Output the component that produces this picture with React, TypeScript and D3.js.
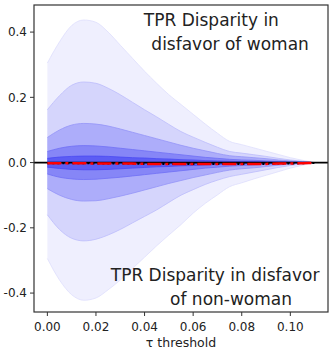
import React from 'react';
import * as d3 from 'd3';

// tau thresholds (x)
const thresholds = [0, 0.005, 0.01, 0.015, 0.02, 0.025, 0.03, 0.035, 0.04, 0.045, 0.05, 0.055,
  0.06, 0.065, 0.07, 0.075, 0.08, 0.085, 0.09, 0.095, 0.1, 0.105, 0.11];

// band bounds, outermost first
const band1Hi = [0.305, 0.37, 0.42, 0.437, 0.43, 0.4, 0.36, 0.32, 0.28, 0.243, 0.208, 0.178,
  0.148, 0.118, 0.09, 0.065, 0.055, 0.045, 0.035, 0.025, 0.015, 0.007, 0];
const band1Lo = [-0.294, -0.36, -0.405, -0.422, -0.415, -0.39, -0.36, -0.325, -0.29, -0.255, -0.222, -0.19,
  -0.155, -0.125, -0.099, -0.074, -0.062, -0.05, -0.039, -0.028, -0.017, -0.008, 0];
const band2Hi = [0.162, 0.205, 0.237, 0.247, 0.243, 0.228, 0.208, 0.185, 0.162, 0.14, 0.117, 0.095,
  0.078, 0.062, 0.047, 0.034, 0.029, 0.024, 0.019, 0.013, 0.008, 0.004, 0];
const band2Lo = [-0.16, -0.205, -0.232, -0.24, -0.235, -0.222, -0.205, -0.185, -0.165, -0.145, -0.122, -0.1,
  -0.083, -0.067, -0.054, -0.043, -0.036, -0.029, -0.022, -0.015, -0.009, -0.004, 0];
const band3Hi = [0.077, 0.1, 0.115, 0.12, 0.118, 0.112, 0.103, 0.093, 0.083, 0.073, 0.063, 0.053,
  0.044, 0.036, 0.028, 0.021, 0.018, 0.015, 0.012, 0.008, 0.005, 0.002, 0];
const band3Lo = [-0.08, -0.1, -0.113, -0.118, -0.117, -0.111, -0.103, -0.094, -0.084, -0.074, -0.064, -0.055,
  -0.046, -0.038, -0.03, -0.023, -0.019, -0.016, -0.012, -0.008, -0.005, -0.002, 0];
const band4Hi = [0.034, 0.044, 0.05, 0.052, 0.051, 0.048, 0.044, 0.04, 0.036, 0.032, 0.028, 0.024,
  0.02, 0.016, 0.013, 0.01, 0.008, 0.007, 0.005, 0.004, 0.002, 0.001, 0];
const band4Lo = [-0.035, -0.045, -0.05, -0.052, -0.051, -0.048, -0.045, -0.041, -0.037, -0.033, -0.029, -0.025,
  -0.021, -0.017, -0.014, -0.011, -0.009, -0.007, -0.005, -0.004, -0.002, -0.001, 0];
const band5Hi = [0.013, 0.017, 0.019, 0.02, 0.02, 0.019, 0.017, 0.015, 0.014, 0.012, 0.011, 0.009,
  0.008, 0.006, 0.005, 0.004, 0.003, 0.003, 0.002, 0.002, 0.001, 0.001, 0];
const band5Lo = [-0.014, -0.018, -0.021, -0.022, -0.022, -0.021, -0.019, -0.017, -0.015, -0.013, -0.012, -0.01,
  -0.009, -0.007, -0.006, -0.005, -0.004, -0.003, -0.003, -0.002, -0.001, -0.001, 0];

// mean disparity
const meanLine = [-0.002, -0.002, -0.002, -0.002, -0.003, -0.003, -0.003, -0.003, -0.004, -0.004, -0.004, -0.004,
  -0.004, -0.004, -0.004, -0.004, -0.004, -0.004, -0.004, -0.003, -0.003, -0.002, -0.001];

const xTicks = [0, 0.02, 0.04, 0.06, 0.08, 0.1];
const yTicks = [-0.4, -0.2, 0, 0.2, 0.4];

const bands = [
  { hi: band1Hi, lo: band1Lo, fill: '#efeffe', edge: '#dedefd' },
  { hi: band2Hi, lo: band2Lo, fill: '#d5d5fc', edge: '#bcbcfb' },
  { hi: band3Hi, lo: band3Lo, fill: '#adadfa', edge: '#9494f8' },
  { hi: band4Hi, lo: band4Lo, fill: '#8686f7', edge: '#7070f5' },
  { hi: band5Hi, lo: band5Lo, fill: '#5c5cf4', edge: '#4a4af2' },
];

const notes = [
  { text: 'TPR Disparity in', x: 0.0397, y: 0.418 },
  { text: 'disfavor of woman', x: 0.0428, y: 0.346 },
  { text: 'TPR Disparity in disfavor', x: 0.0261, y: -0.363 },
  { text: 'of non-woman', x: 0.0505, y: -0.436 },
];

const W = 332;
const H = 353;
const margin = { top: 5, right: 4, bottom: 41, left: 34 };

export default function App() {
  const x = d3.scaleLinear().domain([-0.0055, 0.1155]).range([margin.left, W - margin.right]);
  const y = d3.scaleLinear().domain([-0.458, 0.483]).range([H - margin.bottom, margin.top]);

  const area = (hi: number[], lo: number[]) =>
    d3.area<number>()
      .x((_, i) => x(thresholds[i]))
      .y0((_, i) => y(lo[i]))
      .y1((_, i) => y(hi[i]))
      .curve(d3.curveMonotoneX)(thresholds) as string;

  const edge = (vals: number[]) =>
    d3.line<number>()
      .x((_, i) => x(thresholds[i]))
      .y((_, i) => y(vals[i]))
      .curve(d3.curveMonotoneX)(thresholds) as string;

  const left = margin.left;
  const right = W - margin.right;
  const top = margin.top;
  const bottom = H - margin.bottom;
  const font = 'DejaVu Sans, sans-serif';

  return (
    <svg width={W} height={H} style={{ position: 'absolute', left: 0, top: 0, background: '#fff' }}>
      {bands.map((b, i) => (
        <g key={i}>
          <path d={area(b.hi, b.lo)} fill={b.fill} />
          <path d={edge(b.hi)} fill="none" stroke={b.edge} strokeWidth={0.8} />
          <path d={edge(b.lo)} fill="none" stroke={b.edge} strokeWidth={0.8} />
        </g>
      ))}

      {/* zero reference */}
      <line x1={left} x2={right} y1={y(0)} y2={y(0)} stroke="#000" strokeWidth={1.8} />

      {/* mean lines */}
      <path d={edge(meanLine)} fill="none" stroke="#000" strokeWidth={2} strokeDasharray="2,3" />
      <path d={edge(meanLine)} fill="none" stroke="#ff0000" strokeWidth={2.5}
        strokeDasharray="14,4,3,4" />

      {notes.map((n, i) => (
        <text key={i} x={x(n.x)} y={y(n.y)} fontFamily={font} fontSize={17} fill="#222">
          {n.text}
        </text>
      ))}

      {/* frame */}
      <rect x={left} y={top} width={right - left} height={bottom - top}
        fill="none" stroke="#333" strokeWidth={1.2} />

      {xTicks.map((t) => (
        <g key={t} transform={`translate(${x(t)},${bottom})`}>
          <line y1={0} y2={4} stroke="#333" />
          <text y={19} textAnchor="middle" fontFamily={font} fontSize={12} fill="#222">
            {t.toFixed(2)}
          </text>
        </g>
      ))}
      {yTicks.map((t) => (
        <g key={t} transform={`translate(${left},${y(t)})`}>
          <line x1={-4} x2={0} stroke="#333" />
          <text x={-7} dy="0.35em" textAnchor="end" fontFamily={font} fontSize={12} fill="#222">
            {t < 0 ? '-' + Math.abs(t).toFixed(1) : t.toFixed(1)}
          </text>
        </g>
      ))}
      <text x={(left + right) / 2} y={347} textAnchor="middle" fontFamily={font} fontSize={12.5} fill="#222">
        τ threshold
      </text>
    </svg>
  );
}
